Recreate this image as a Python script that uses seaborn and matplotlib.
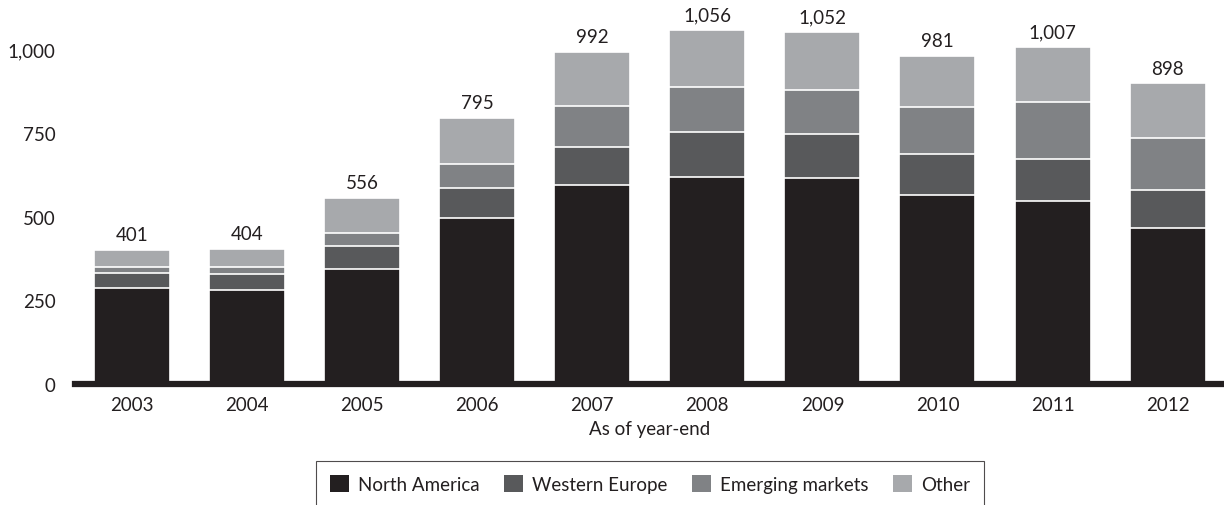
import matplotlib
matplotlib.use("Agg")
import matplotlib.pyplot as plt
from matplotlib.patches import Patch
import numpy as np
import pandas as pd
import seaborn as sns

years = ["2003", "2004", "2005", "2006", "2007", "2008", "2009", "2010", "2011", "2012"]
north_america = [287, 281, 343, 495, 593, 617, 615, 566, 547, 466]
western_europe = [44, 47, 68, 89, 114, 135, 133, 120, 124, 114]
emerging_markets = [18, 21, 40, 74, 124, 135, 129, 140, 171, 154]
other = [52, 55, 105, 137, 161, 169, 175, 155, 165, 164]

regions = ["North America", "Western Europe", "Emerging markets", "Other"]
colors = ["#231f20", "#58595b", "#808285", "#a7a9ac"]

sns.set_style("white")
plt.rcParams["font.family"] = ["Lato", "DejaVu Sans"]
plt.rcParams["font.size"] = 13.5

df = pd.DataFrame({
    "year": years,
    "North America": north_america,
    "Western Europe": western_europe,
    "Emerging markets": emerging_markets,
    "Other": other,
})
# cumulative tops, so each layer can be drawn over the next one
cum = df[regions].cumsum(axis=1)
totals = cum["Other"].tolist()

fig = plt.figure(figsize=(12.24, 5.06), dpi=100)
ax = fig.add_axes([75 / 1224, 121 / 506, 1149 / 1224, 385 / 506])

for region, color in reversed(list(zip(regions, colors))):
    sns.barplot(x=df["year"], y=cum[region], color=color, width=0.66,
                edgecolor="white", linewidth=1.2, errorbar=None,
                saturation=1, ax=ax, zorder=2)

for i, total in enumerate(totals):
    ax.text(i, total + 20, f"{total:,}", ha="center", va="bottom",
            fontsize=13.5, color="#231f20")

ax.set_ylim(0, 1150)
ax.set_xlim(-0.495, 9.49)
ax.set_yticks([0, 250, 500, 750, 1000])
ax.set_yticklabels(["0", "250", "500", "750", "1,000"])
ax.tick_params(axis="both", length=0, labelsize=13.5, colors="#231f20")
ax.tick_params(axis="y", pad=14)
ax.tick_params(axis="x", pad=9)
ax.set_ylabel("")
ax.set_xlabel("As of year-end", fontsize=13.5, color="#231f20", labelpad=5)

for side in ["top", "right", "left"]:
    ax.spines[side].set_visible(False)
ax.spines["bottom"].set_linewidth(4.5)
ax.spines["bottom"].set_color("#231f20")
ax.spines["bottom"].set_zorder(5)

handles = [Patch(facecolor=c, edgecolor="none") for c in colors]
leg = fig.legend(handles, regions, ncol=4, loc="upper center",
                 bbox_to_anchor=(650 / 1224, 1 - 462 / 506),
                 frameon=True, fancybox=False, edgecolor="#231f20",
                 handlelength=1.0, handleheight=1.0, handletextpad=0.5,
                 columnspacing=1.3, borderpad=0.75, fontsize=13.5,
                 borderaxespad=0)
leg.get_frame().set_linewidth(0.8)
for t in leg.get_texts():
    t.set_color("#231f20")

fig.savefig("out.png", dpi=100)
